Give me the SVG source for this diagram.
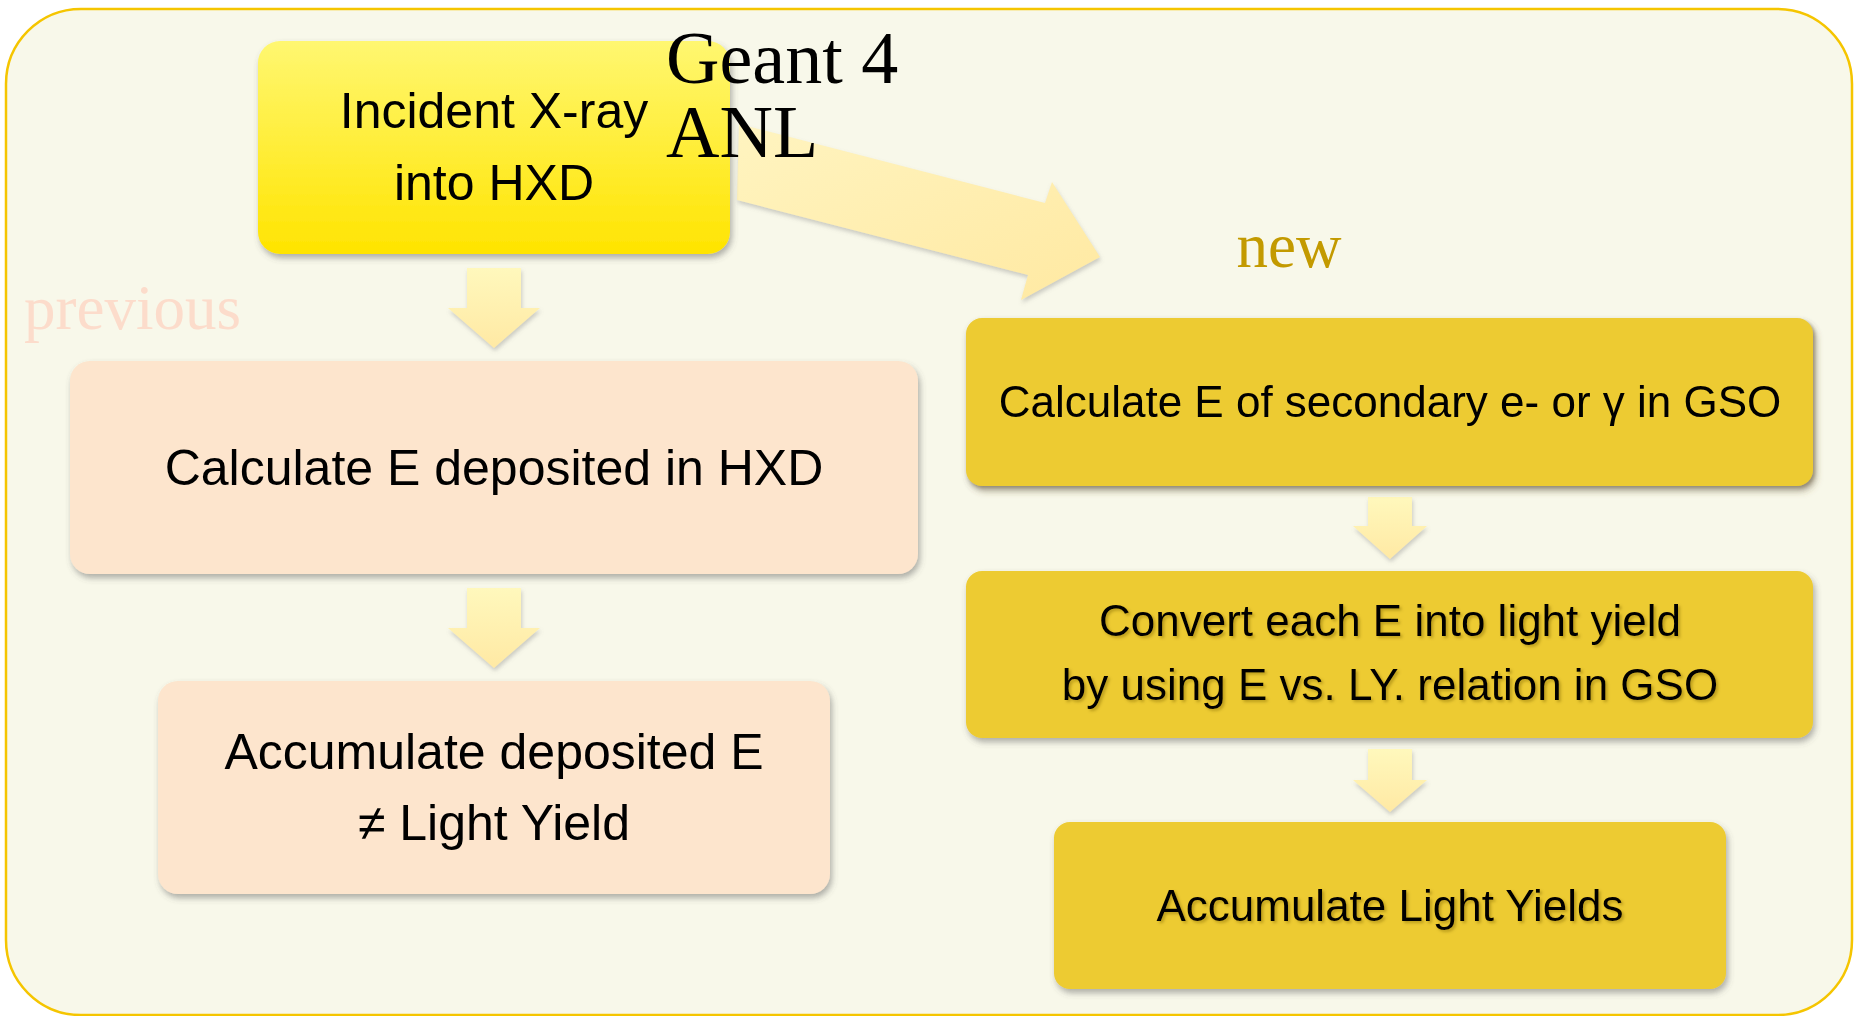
<svg xmlns="http://www.w3.org/2000/svg" width="1854" height="1016" viewBox="0 0 1854 1016">
<defs>
  <linearGradient id="gTop" x1="0" y1="0" x2="0" y2="1">
    <stop offset="0" stop-color="#fff771"/>
    <stop offset="1" stop-color="#ffe400"/>
  </linearGradient>
  <linearGradient id="gArrow" x1="0" y1="0" x2="0" y2="1">
    <stop offset="0" stop-color="#fff8bc"/>
    <stop offset="1" stop-color="#ffe9a4"/>
  </linearGradient>
  <linearGradient id="gDiag" x1="0" y1="0" x2="1" y2="1">
    <stop offset="0" stop-color="#fff4c0"/>
    <stop offset="1" stop-color="#ffe9a2"/>
  </linearGradient>
  <filter id="shadow" x="-10%" y="-10%" width="120%" height="130%">
    <feDropShadow dx="2" dy="4" stdDeviation="3" flood-color="#555" flood-opacity="0.45"/>
  </filter>
  <filter id="ashadow" x="-20%" y="-20%" width="140%" height="140%">
    <feDropShadow dx="1" dy="3" stdDeviation="2" flood-color="#777" flood-opacity="0.35"/>
  </filter>
  <filter id="tshadow" x="-5%" y="-20%" width="110%" height="150%">
    <feDropShadow dx="2" dy="2" stdDeviation="1.5" flood-color="#7a6400" flood-opacity="0.45"/>
  </filter>
</defs>
<style>
  .node-text { font-family: "Liberation Sans", Arial, sans-serif; fill: #000; text-anchor: middle; }
  .big { font-size: 50px; }
  .small { font-size: 44px; }
  .peach { fill: #fde5cd; filter: url(#shadow); }
  .mustard { fill: #edcb31; filter: url(#shadow); }
  .arrow { fill: url(#gArrow); filter: url(#ashadow); }
  .serif { font-family: "Liberation Serif", "Times New Roman", serif; }
</style>
<rect x="0" y="0" width="1854" height="1016" fill="#ffffff"/>
<rect id="frame" x="6" y="9" width="1846" height="1006" rx="75" ry="75" fill="#f8f8ea" stroke="#f5c500" stroke-width="2.5"/>

<text class="serif" x="24" y="329" font-size="63" fill="#fcdccb">previous</text>
<text class="serif" x="1289" y="267" font-size="63" fill="#c39a00" text-anchor="middle">new</text>

<g id="connectors">
  <polygon id="diag-arrow" points="739,124 1045,203 1052,182 1100,257 1021,300 1028,275 737,200" fill="url(#gDiag)" filter="url(#ashadow)"/>
  <polygon class="arrow" points="467,268 521,268 521,308 540,308 494,348 448,308 467,308"/>
  <polygon class="arrow" points="467,588 521,588 521,628 540,628 494,668 448,628 467,628"/>
  <polygon class="arrow" points="1368,497 1412,497 1412,526 1427,526 1390,559 1353,526 1368,526"/>
  <polygon class="arrow" points="1368,749 1412,749 1412,780 1427,780 1390,812 1353,780 1368,780"/>
</g>

<g id="node-incident">
  <rect x="258" y="41" width="472" height="213" rx="22" fill="url(#gTop)" filter="url(#shadow)"/>
  <text class="node-text big" x="494" y="128">Incident X-ray</text>
  <text class="node-text big" x="494" y="200">into HXD</text>
</g>

<g id="label-geant">
  <text class="serif" x="666" y="83" font-size="74" fill="#000">Geant 4</text>
  <text class="serif" x="666" y="157" font-size="74" fill="#000">ANL</text>
</g>

<g id="node-calc-hxd">
  <rect class="peach" x="70" y="361" width="848" height="213" rx="20"/>
  <text class="node-text big" x="494" y="485">Calculate E deposited in HXD</text>
</g>

<g id="node-accum-e">
  <rect class="peach" x="158" y="681" width="672" height="213" rx="20"/>
  <text class="node-text big" x="494" y="769">Accumulate deposited E</text>
  <text class="node-text big" x="494" y="840">≠ Light Yield</text>
</g>

<g id="node-calc-gso" filter="url(#tshadow)">
  <rect class="mustard" x="966" y="318" width="847" height="168" rx="16"/>
  <text class="node-text small" x="1390" y="417">Calculate E of secondary e- or γ in GSO</text>
</g>

<g id="node-convert">
  <rect class="mustard" x="966" y="571" width="847" height="167" rx="16"/>
  <g filter="url(#tshadow)">
    <text class="node-text small" x="1390" y="636">Convert each E into light yield</text>
    <text class="node-text small" x="1390" y="700">by using E vs. LY. relation in GSO</text>
  </g>
</g>

<g id="node-accum-ly">
  <rect class="mustard" x="1054" y="822" width="672" height="167" rx="16"/>
  <text class="node-text small" x="1390" y="921" filter="url(#tshadow)">Accumulate Light Yields</text>
</g>
</svg>
